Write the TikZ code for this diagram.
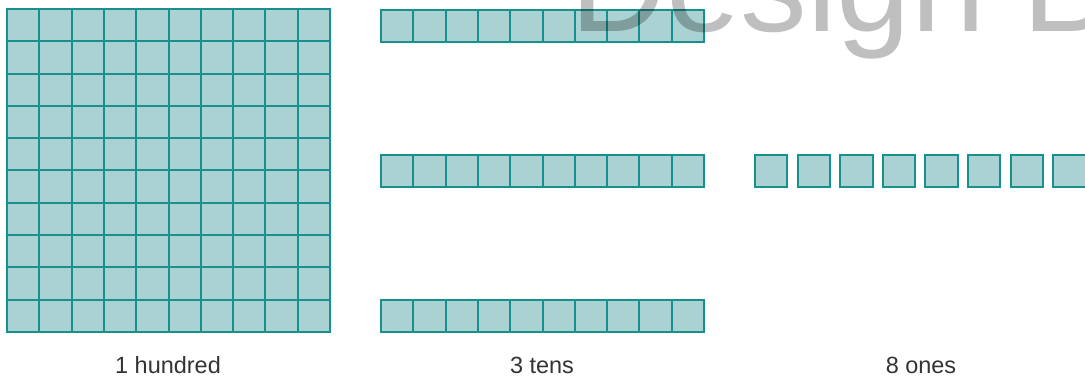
\documentclass[tikz,border=0pt]{standalone}
\usepackage{fontspec}
\setmainfont{Liberation Sans}
\definecolor{blkFill}{HTML}{AAD2D2}
\definecolor{blkLine}{HTML}{16918E}
\definecolor{lblGray}{HTML}{333333}

\begin{document}
\begin{tikzpicture}[
    x=0.75pt, y=0.75pt,
    cell/.style={fill=blkFill, draw=blkLine, line width=1.5pt},
    lbl/.style={font=\fontsize{17.6}{20}\selectfont, text=lblGray, anchor=base},
]
\def\c{32.3}
\useasboundingbox (0,0) rectangle (1085,381);

% 10x10 hundred square
\foreach \x in {0,...,9} {
    \foreach \y in {0,...,9} {
        \draw[cell] ({7 + \x*\c}, {49 + \y*\c}) rectangle ++(\c, \c);
    }
}

% Three tens bars
\foreach \by in {49, 194, 339} {
    \foreach \x in {0,...,9} {
        \draw[cell] ({381 + \x*\c}, \by) rectangle ++(\c, \c);
    }
}

% Eight ones (spaced apart)
\foreach \x in {0,...,7} {
    \draw[cell] ({755 + \x*42.6}, 194) rectangle ++(\c, \c);
}

% Labels
\node[lbl] (hundredlbl) at (168, 7) {1 hundred};
\node[lbl] (tenslbl) at (542, 7) {3 tens};
\node[lbl] (oneslbl) at (921, 7) {8 ones};

% Watermark, cut by the edge
\begin{scope}
    \clip (0,0) rectangle (1085,381);
    \node[font=\fontsize{100}{100}\selectfont, text=black, text opacity=0.25,
        anchor=base west, inner sep=0pt] (watermark) at (570, 349) {Design B};
\end{scope}

\end{tikzpicture}
\end{document}
